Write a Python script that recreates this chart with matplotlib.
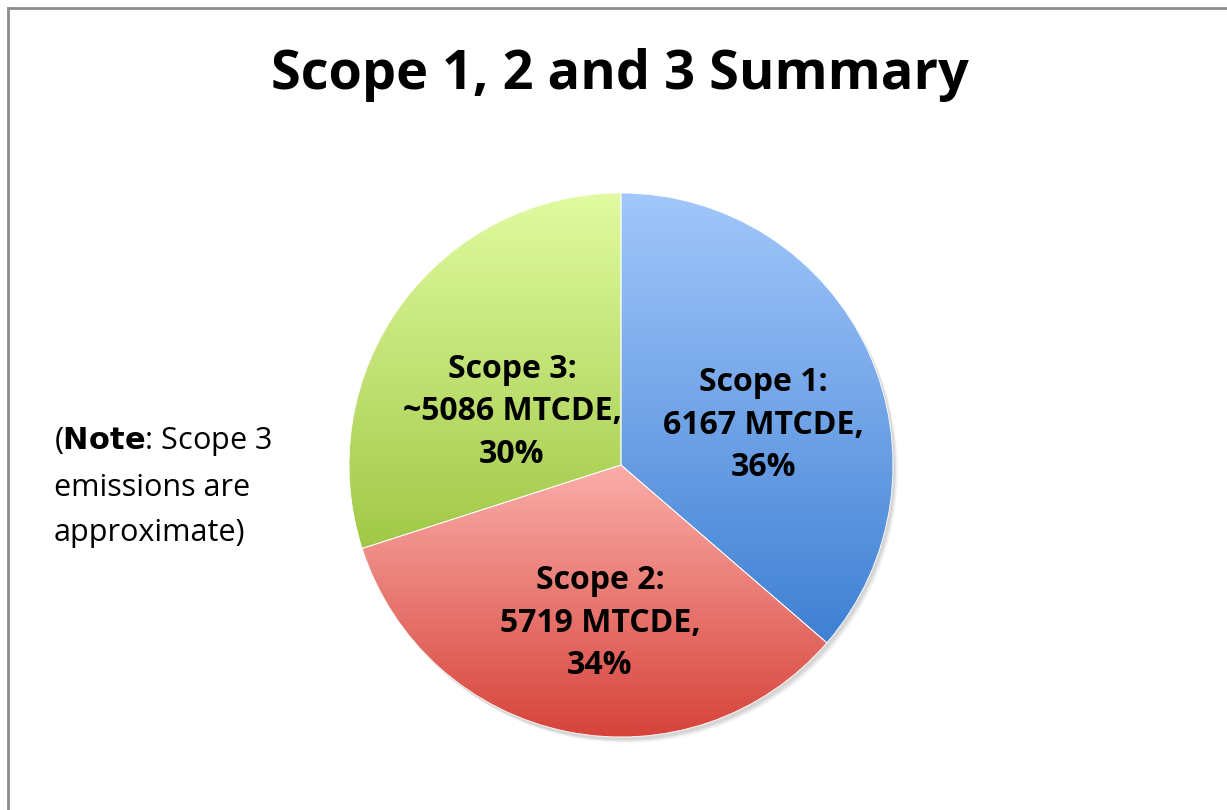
import numpy as np
import matplotlib.pyplot as plt
from matplotlib.colors import LinearSegmentedColormap
from matplotlib.lines import Line2D

# Data
categories = ["Scope 1", "Scope 2", "Scope 3"]
values = [6167, 5719, 5086]
value_labels = ["6167 MTCDE,", "5719 MTCDE,", "~5086 MTCDE,"]
percents = ["36%", "34%", "30%"]

# top / bottom gradient colours for each slice
grad_top = ["#A2C7FB", "#FBADA9", "#E0FBA0"]
grad_bottom = ["#3F80D3", "#D6433A", "#A1C847"]

# label centres in pixels (from top-left of the image)
label_pos = [(763, 425), (600, 623), (512, 412)]

W, H = 1227, 810
plt.rcParams['font.family'] = ['Open Sans', 'DejaVu Sans']

fig = plt.figure(figsize=(W / 100, H / 100), dpi=100)
ax = fig.add_axes([0, 0, 1, 1])

cx, cy, r = 621, H - 465, 272

# soft shadow under the pie
for i, a in enumerate([0.05, 0.05, 0.04, 0.03]):
    sh = plt.Circle((cx + 2 + i, cy - 3 - i), r, color='black', alpha=a, lw=0, zorder=1)
    ax.add_patch(sh)
ax.add_patch(plt.Circle((cx, cy), r, color='white', lw=0, zorder=1.5))

wedges, _ = ax.pie(values, center=(cx, cy), radius=r, startangle=90,
                   counterclock=False, frame=True,
                   wedgeprops=dict(facecolor='none', edgecolor='none'))
ax.set_xlim(0, W)
ax.set_ylim(0, H)
ax.set_aspect('equal')
ax.axis('off')

# outer frame (only left and top visible)
ax.add_line(Line2D([8, 8], [0, H - 8], color='#8c8c8c', lw=2))
ax.add_line(Line2D([8, W], [H - 8, H - 8], color='#8c8c8c', lw=2))

# vertical gradient fill per slice
grad = np.linspace(0, 1, 256).reshape(-1, 1)
for w, top, bot in zip(wedges, grad_top, grad_bottom):
    w.set_zorder(3)
    bb = w.get_path().get_extents(w.get_patch_transform())
    cmap = LinearSegmentedColormap.from_list('g', [bot, top])
    im = ax.imshow(grad, cmap=cmap, origin='lower', aspect='auto',
                   extent=[bb.x0, bb.x1, bb.y0, bb.y1], zorder=2,
                   interpolation='bilinear')
    im.set_clip_path(w)
    w.set_edgecolor('white')
    w.set_linewidth(0.6)

ax.set_xlim(0, W)
ax.set_ylim(0, H)

for name, vl, pc, (lx, ly) in zip(categories, value_labels, percents, label_pos):
    ax.text(lx, H - ly, f"{name}:\n{vl}\n{pc}", ha='center', va='center',
            fontsize=23, fontweight='bold', linespacing=1.39, zorder=5)

ax.text(620, H - 75, "Scope 1, 2 and 3 Summary", ha='center', va='center',
        fontsize=39, fontweight='bold')

ax.text(54, H - 442, r"($\bf{Note}$: Scope 3", ha='left', va='center', fontsize=22)
ax.text(54, H - 488, "emissions are", ha='left', va='center', fontsize=22)
ax.text(54, H - 533, "approximate)", ha='left', va='center', fontsize=22)

fig.savefig("out.png", dpi=100)
